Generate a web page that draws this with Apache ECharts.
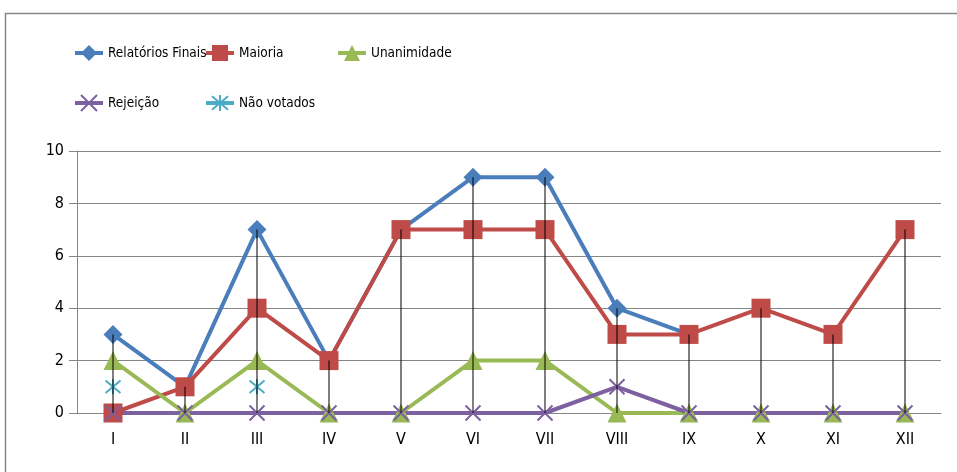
<!DOCTYPE html>
<html><head><meta charset="utf-8">
<script src="https://cdn.jsdelivr.net/npm/echarts@6/dist/echarts.min.js"></script>
<style>html,body{margin:0;padding:0;background:#fff}#c{width:957px;height:472px}</style>
</head><body><div id="c"></div>
<script>
const categories = ['I','II','III','IV','V','VI','VII','VIII','IX','X','XI','XII'];
const relatoriosFinais = [3,1,7,2,7,9,9,4,3,null,null,null];
const maioria = [0,1,4,2,7,7,7,3,3,4,3,7];
const unanimidade = [2,0,2,0,0,2,2,0,0,0,0,0];
const rejeicao = [0,0,0,0,0,0,0,1,0,0,0,0];
const naoVotados = [1,null,1,null,null,null,null,null,null,null,null,null];
const yTicks = [0,2,4,6,8,10];

const FONT = '"DejaVu Sans Condensed", "Liberation Sans", sans-serif';
const all = [relatoriosFinais, maioria, unanimidade, rejeicao, naoVotados];
const dropLines = categories.map((c,i)=>Math.max(...all.map(a=>a[i]).filter(v=>v!=null)));

const X = 'path://M0,0L10,10M10,0L0,10';
const STAR = 'path://M0,0L10,10M10,0L0,10M5,-1L5,11';

function lineSeries(name, data, color, symbol, size, extra){
  return Object.assign({
    name, type:'line', data, symbol, symbolSize:size, showAllSymbol:true, connectNulls:false,
    lineStyle:{color, width:4}, itemStyle:{color},
    emphasis:{disabled:true}, animation:false
  }, extra||{});
}
function leg(name, left, top){
  return {data:[name], left, top, padding:0, itemWidth:28, itemHeight:20, itemGap:0,
    lineStyle:{width:4},
    textStyle:{fontFamily:FONT, fontSize:13.5, color:'#000'}, selectedMode:false};
}

const chart = echarts.init(document.getElementById('c'), null, {renderer:'canvas'});
chart.setOption({
  animation:false,
  graphic:[{type:'rect', shape:{x:5.5,y:13.5,width:1000,height:500}, style:{fill:'none', stroke:'#868686', lineWidth:1.5}, z:-1}],
  legend:[leg('Relatórios Finais',73,45), leg('Maioria',204,45), leg('Unanimidade',336,45),
          leg('Rejeição',73,94), leg('Não votados',204,94)],
  grid:{left:77, right:16, top:151, bottom:59, containLabel:false},
  xAxis:{type:'category', data:categories, boundaryGap:true,
    axisLine:{lineStyle:{color:'#868686', width:1}}, axisTick:{show:false},
    axisLabel:{fontFamily:FONT, fontSize:16, color:'#000', margin:19}},
  yAxis:{type:'value', min:0, max:10, interval:2,
    axisLine:{show:true, lineStyle:{color:'#868686'}},
    axisTick:{show:true, length:8, lineStyle:{color:'#868686'}},
    splitLine:{lineStyle:{color:'#868686', width:1}},
    axisLabel:{fontFamily:FONT, fontSize:16, color:'#000', margin:13,
      formatter:v=>yTicks.includes(v)?String(v):''}},
  series:[
    lineSeries('Relatórios Finais', relatoriosFinais, '#4A7EBB', 'diamond', 19),
    lineSeries('Maioria', maioria, '#BE4B48', 'rect', 19),
    lineSeries('Unanimidade', unanimidade, '#98B954', 'triangle', 19),
    lineSeries('Rejeição', rejeicao, '#7D60A0', X, 15, {itemStyle:{color:'#7D60A0', borderColor:'#7D60A0', borderWidth:2}}),
    lineSeries('Não votados', naoVotados, '#4BACC6', STAR, 15, {itemStyle:{color:'#4BACC6', borderColor:'#4BACC6', borderWidth:2}}),
    {name:'drop', type:'bar', data:dropLines, barWidth:1, itemStyle:{color:'#000'}, z:10, silent:true, animation:false}
  ]
});
</script></body></html>
